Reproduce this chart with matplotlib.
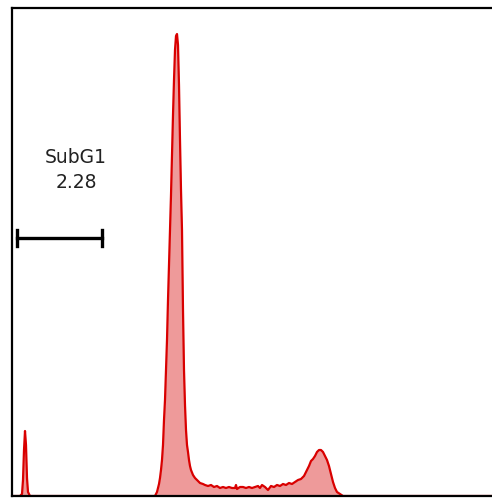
import matplotlib
matplotlib.use("Agg")
import matplotlib.pyplot as plt

# DNA content histogram (channel vs count)
channel = [0, 16, 20, 22, 24, 26, 28, 30, 32, 36,
           286, 290, 294, 296, 298, 300, 302, 304, 306, 308, 310, 312, 314, 316,
           318, 320, 322, 324, 326, 328, 330, 332, 334, 336, 338, 340, 342, 344,
           346, 348, 350, 352, 354, 356, 358, 362, 366, 370, 376, 382,
           386, 392, 398, 404, 410, 416, 422, 428, 434, 440, 446, 448, 450, 456,
           462, 468, 474, 480, 486, 492, 496, 500, 506, 512, 518, 524, 530, 536,
           542, 548, 554, 560, 566, 572, 578, 584, 590, 594, 598, 602, 606, 610,
           614, 618, 622, 626, 630, 634, 638, 642, 646, 650, 656, 662, 960]
counts = [0, 0, 4, 32, 92, 130, 102, 36, 8, 0,
          0, 8, 24, 36, 52, 72, 102, 152, 192, 252, 312, 392, 462, 532,
          602, 682, 762, 832, 892, 920, 924, 902, 822, 712, 612, 532, 372, 252,
          182, 132, 102, 88, 72, 60, 52, 42, 36, 32, 26, 24,
          22, 20, 22, 18, 20, 16, 18, 16, 18, 16, 16, 22, 14, 18,
          18, 16, 18, 16, 18, 20, 16, 22, 18, 12, 20, 18, 22, 20,
          24, 22, 26, 24, 28, 32, 34, 40, 52, 60, 70, 74, 80, 88,
          92, 92, 88, 80, 72, 60, 44, 28, 16, 8, 4, 0, 0]

# SubG1 gate
gate_lo, gate_hi, gate_y = 10, 180, 516
gate_name = "SubG1"
gate_pct = "2.28"

fig = plt.figure(figsize=(4.92, 4.98), dpi=100)
ax = fig.add_axes([12 / 492, 2 / 498, 480 / 492, 488 / 498])

ax.fill_between(channel, counts, 0, color="#ee9a9a", lw=0)
ax.plot(channel, counts, color="#d90000", lw=1.6, solid_joinstyle="round")

# gate marker
ax.plot([gate_lo, gate_hi], [gate_y, gate_y], color="black", lw=2.4)
ax.plot([gate_lo, gate_lo], [gate_y - 16, gate_y + 16], color="black", lw=2.4)
ax.plot([gate_hi, gate_hi], [gate_y - 16, gate_y + 16], color="black", lw=2.4)
ax.text(128, 652, gate_name + "\n" + gate_pct, ha="center", va="center",
        fontsize=13.5, color="#222222", linespacing=1.45)

ax.set_xlim(0, 960)
ax.set_ylim(0, 976)
ax.set_xticks([])
ax.set_yticks([])
ax.spines["right"].set_visible(False)
for s in ["left", "top", "bottom"]:
    ax.spines[s].set_linewidth(1.6)

fig.savefig("out.png", dpi=100)
